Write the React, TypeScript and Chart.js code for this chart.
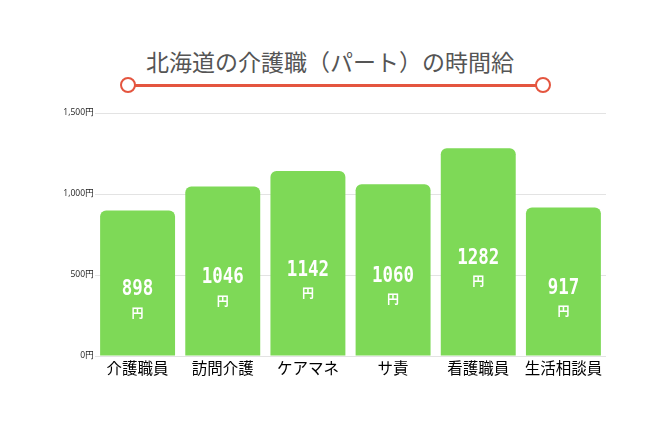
import { useEffect, useRef } from 'react'
import { Chart, registerables } from 'chart.js'

Chart.register(...registerables)

const categories = ['介護職員', '訪問介護', 'ケアマネ', 'サ責', '看護職員', '生活相談員']
const wages = [898, 1046, 1142, 1060, 1282, 917]
const yTicks = [0, 500, 1000, 1500]
const unit = '円'
const title = '北海道の介護職（パート）の時間給'

const GREEN = '#7ed957'
const RED = '#e4553f'

// white value + 円 written inside each bar
const barLabels = {
  id: 'barLabels',
  afterDatasetsDraw(chart: Chart) {
    const c = chart.ctx
    const meta = chart.getDatasetMeta(0)
    c.fillStyle = '#ffffff'
    c.textAlign = 'center'
    c.textBaseline = 'middle'
    meta.data.forEach((bar: any, i) => {
      const mid = (bar.y + bar.base) / 2
      c.save()
      c.translate(bar.x, mid + 7)
      c.scale(0.92, 1.1)
      c.font = "bold 19px 'DejaVu Sans Mono'"
      c.fillText(String(wages[i]), 0, 0)
      c.restore()
      c.save()
      c.fillStyle = '#ffffff'
      c.textAlign = 'center'
      c.textBaseline = 'middle'
      c.font = "bold 12px 'Noto Sans CJK JP'"
      c.fillText(unit, bar.x, mid + 30)
      c.restore()
    })
  },
}

export default function App() {
  const canvasRef = useRef<HTMLCanvasElement>(null)
  const chartRef = useRef<Chart | null>(null)

  useEffect(() => {
    if (!canvasRef.current) return
    if (chartRef.current) { chartRef.current.destroy(); chartRef.current = null }

    chartRef.current = new Chart(canvasRef.current, {
      type: 'bar',
      plugins: [barLabels],
      data: {
        labels: categories,
        datasets: [{
          data: wages,
          backgroundColor: GREEN,
          borderRadius: 6,
          borderSkipped: 'bottom',
          categoryPercentage: 1,
          barPercentage: 0.88,
        }],
      },
      options: {
        responsive: false,
        animation: false,
        layout: { padding: { top: 113, right: 54, left: 0, bottom: 0 } },
        plugins: {
          legend: { display: false },
          tooltip: { enabled: false },
        },
        scales: {
          x: {
            grid: { display: false, drawTicks: false },
            border: { display: false },
            ticks: {
              color: '#000',
              padding: 3,
              font: { family: "'Noto Sans CJK JP'", size: 15.5 },
              maxRotation: 0,
            },
            afterFit: (s: any) => { s.height = 84 },
          },
          y: {
            min: 0,
            max: 1500,
            grid: { color: '#e3e3e3', drawTicks: false },
            border: { display: false },
            afterBuildTicks: (s: any) => { s.ticks = yTicks.map(v => ({ value: v })) },
            ticks: {
              color: '#222',
              padding: 1,
              font: { family: "'Open Sans'", size: 8.5 },
              callback: (v: any) => Number(v).toLocaleString('en-US') + unit,
            },
            afterFit: (s: any) => { s.width = 95 },
          },
        },
      },
    })

    return () => { chartRef.current?.destroy(); chartRef.current = null }
  }, [])

  const circle = (left: number) => (
    <div style={{
      position: 'absolute', left: left - 8, top: 77, width: 12, height: 12,
      border: `2.5px solid ${RED}`, borderRadius: '50%', background: '#fff',
    }} />
  )

  return (
    <div style={{ position: 'fixed', left: 0, top: 0, width: 660, height: 440, background: '#fff', overflow: 'hidden' }}>
      <div style={{
        position: 'absolute', left: 0, top: 44, width: 660, textAlign: 'center',
        fontFamily: "'Noto Sans CJK JP'", fontSize: 23, color: '#555', lineHeight: '34px',
      }}>{title}</div>
      <div style={{ position: 'absolute', left: 128, top: 84, width: 415, height: 3, background: RED }} />
      {circle(128)}
      {circle(543)}
      <canvas ref={canvasRef} width={660} height={440} style={{ position: 'absolute', left: 0, top: 0 }} />
    </div>
  )
}
